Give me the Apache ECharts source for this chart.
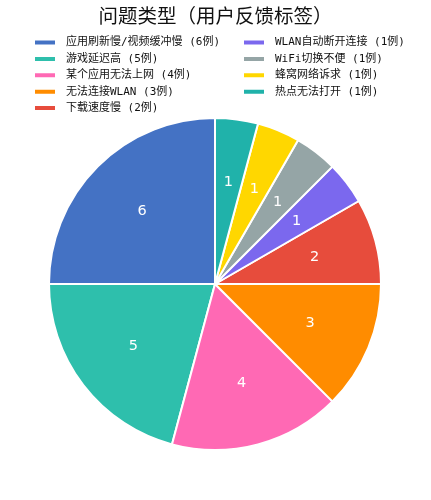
<!DOCTYPE html>
<html>
<head>
<meta charset="utf-8">
<script src="https://cdn.jsdelivr.net/npm/echarts@6/dist/echarts.min.js"></script>
<style>html,body{margin:0;padding:0;background:#fff}#c{width:431px;height:500px}</style>
</head>
<body>
<div id="c"></div>
<script>
const categories = ['应用刷新慢/视频缓冲慢','游戏延迟高','某个应用无法上网','无法连接WLAN','下载速度慢','WLAN自动断开连接','WiFi切换不便','蜂窝网络诉求','热点无法打开'];
const values = [6,5,4,3,2,1,1,1,1];
const colors = ['#4472C4','#2EBFAC','#FF69B4','#FF8C00','#E74C3C','#7B68EE','#95A5A6','#FFD700','#20B2AA'];
const titleText = '问题类型（用户反馈标签）';

const data = categories.map((n,i)=>({name:n, value:values[i], itemStyle:{color:colors[i]}}));
const nameMap = {};
categories.forEach((n,i)=>{nameMap[n]=n+' ('+values[i]+'例)';});
const font = "'Noto Sans CJK SC', sans-serif";
const legendFont = "'DejaVu Sans Mono', 'Noto Sans CJK SC', monospace";
const legendBase = {
  orient:'vertical', icon:'rect', itemWidth:22, itemHeight:6, itemGap:5.4,
  textStyle:{fontSize:11, color:'#111', fontFamily:legendFont, padding:[0,0,0,5]},
  formatter: n => nameMap[n]
};
const chart = echarts.init(document.getElementById('c'), null, {renderer:'canvas'});
chart.setOption({
  animation:false,
  title:{text:titleText, left:'center', top:1, textStyle:{fontSize:19.5, fontWeight:'normal', color:'#111', fontFamily:font}},
  legend:[
    Object.assign({}, legendBase, {left:28, top:32, data:categories.slice(0,5)}),
    Object.assign({}, legendBase, {left:237, top:32, data:categories.slice(5)})
  ],
  series:[
    {type:'pie', center:[215,284], radius:[0,166], startAngle:90, clockwise:false,
     data:data, label:{show:false}, labelLine:{show:false},
     itemStyle:{borderColor:'#fff', borderWidth:2}, emphasis:{disabled:true}},
    {type:'pie', center:[215,284], radius:[34,166], startAngle:90, clockwise:false, silent:true,
     data:data.map(d=>({name:d.name, value:d.value})),
     itemStyle:{color:'rgba(0,0,0,0)', borderWidth:0},
     label:{show:true, position:'inside', formatter:'{c}', color:'#fff', fontSize:14.5, fontFamily:"'DejaVu Sans', sans-serif"},
     labelLine:{show:false}, emphasis:{disabled:true}}
  ]
});
</script>
</body>
</html>
